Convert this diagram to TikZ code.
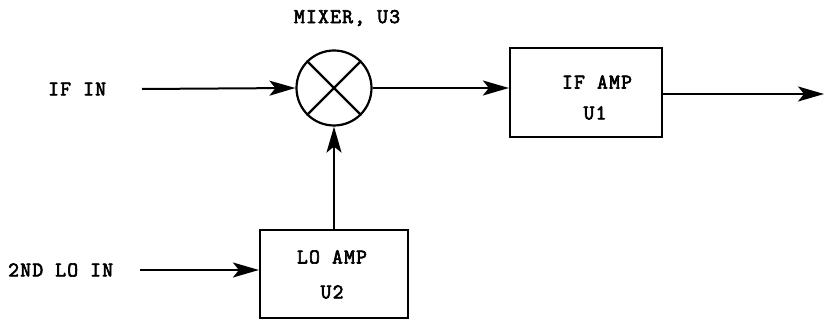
\documentclass[tikz,border=0pt]{standalone}
\usepackage{fontspec}
\newfontfamily\tw{Latin Modern Mono}[FakeBold=3, LetterSpace=6]
\usetikzlibrary{arrows.meta}
\begin{document}
\begin{tikzpicture}[x=1pt,y=-1pt,
  lbl/.style={font=\tw\bfseries\fontsize{21}{30}\selectfont, inner sep=0pt, align=center},
  wire/.style={line width=2pt},
  arr/.style={wire, -{Stealth[length=26pt,width=15pt,inset=6pt]}},
  blk/.style={draw, line width=2.2pt, inner sep=0pt}]
\useasboundingbox (0,0) rectangle (824,320);
% mixer
\node[draw, circle, line width=2.2pt, minimum size=75pt, inner sep=0pt] (mix) at (334,88) {};
\draw[line width=2.2pt] (mix.45) -- (mix.225) (mix.135) -- (mix.315);
\node[lbl] (mixl) at (347,18) {MIXER, U3};
% IF AMP
\node[blk, minimum width=152pt, minimum height=89pt] (ifamp) at (586,92.5) {};
\node[lbl] (ift) at (597,82) {IF AMP};
\node[lbl] (ifu) at (595,113) {U1};
% LO AMP
\node[blk, minimum width=148pt, minimum height=88pt] (loamp) at (334,274) {};
\node[lbl] (lot) at (332,257) {LO AMP};
\node[lbl] (lou) at (332,292) {U2};
% inputs
\node[lbl, anchor=west] (ifin) at (48,89) {IF IN};
\node[lbl, anchor=west] (loin) at (8,270) {2ND LO IN};
\coordinate (ifs) at (142,89);
\coordinate (los) at (140,270);
\coordinate (outend) at (824,94);
\draw[arr] (ifs) -- (mix.west);
\draw[arr] (mix.east) -- (ifamp.west |- mix.east);
\draw[arr] (los) -- (loamp.west |- los);
\draw[arr] (loamp.north) -- (mix.south);
\draw[arr] (ifamp.east |- outend) -- (outend);
\end{tikzpicture}
\end{document}
